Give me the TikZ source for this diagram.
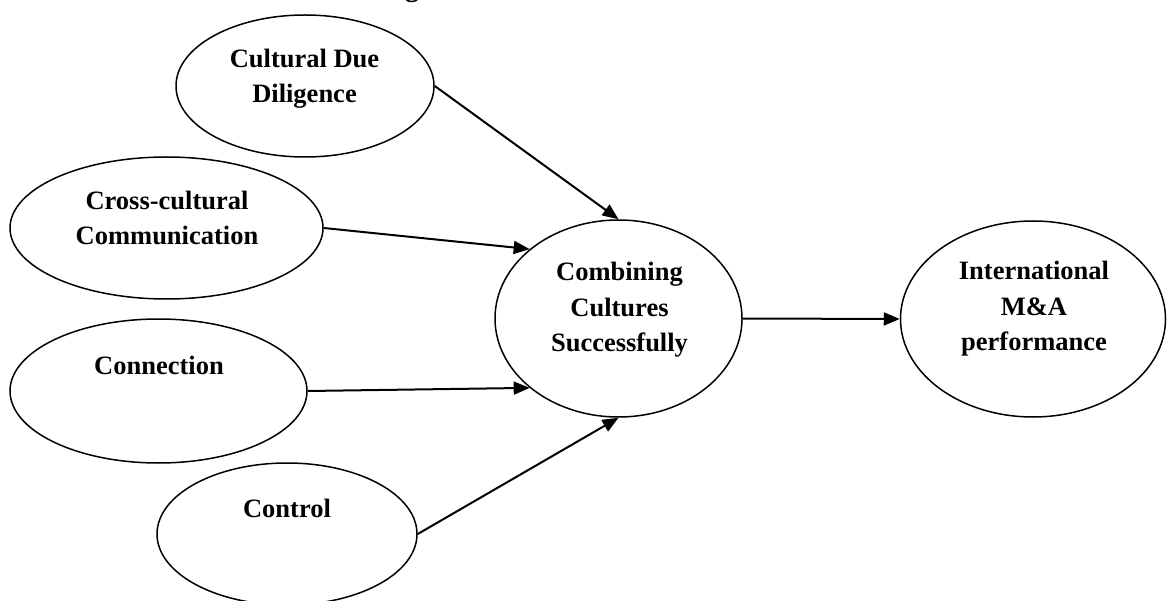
\documentclass[tikz,border=0pt]{standalone}
\usepackage{fontspec}
\setmainfont{Liberation Serif}
\usetikzlibrary{shapes.geometric,arrows.meta}

\tikzset{
  oval/.style={ellipse, draw, line width=1.5pt, inner sep=0pt},
  lbl/.style={anchor=base, align=center, inner sep=0pt,
    font=\fontsize{26.5}{35.5}\selectfont\bfseries},
  arr/.style={line width=2pt, -{Triangle[length=16pt,width=13pt]}},
}

\begin{document}
\begin{tikzpicture}[x=1pt,y=-1pt]
  \useasboundingbox (0,0) rectangle (1167,601);
  \clip (0,0) rectangle (1167,601);

  % heading, running off the top edge
  \node[anchor=base west, inner sep=0pt,
        font=\fontsize{28}{34}\selectfont\bfseries] (title) at (380,-3)
        {Figure 1: Research Framework};

  % ellipses
  \node[oval, minimum width=258pt, minimum height=142pt] (cdd)   at (305,86) {};
  \node[oval, minimum width=313pt, minimum height=142pt] (cross) at (166.5,228) {};
  \node[oval, minimum width=297pt, minimum height=144pt] (conn)  at (158.5,391) {};
  \node[oval, minimum width=260pt, minimum height=142pt] (ctrl)  at (287,534) {};
  \node[oval, minimum width=247pt, minimum height=197pt] (comb)  at (618.5,318.5) {};
  \node[oval, minimum width=265pt, minimum height=196pt] (intl)  at (1033,319) {};

  % texts (anchored on the baseline of their last line)
  \node[lbl] (cddT)   at (304.5,103) {Cultural Due\\Diligence};
  \node[lbl] (crossT) at (167,245)   {Cross-cultural\\Communication};
  \node[lbl] (connT)  at (159,374)   {Connection};
  \node[lbl] (ctrlT)  at (287,517)   {Control};
  \node[lbl] (combT)  at (619.5,352) {Combining\\Cultures\\Successfully};
  \node[lbl] (intlT)  at (1034,351)  {International\\M\&A\\performance};

  % connectors
  \draw[arr] (cdd.east)   -- (comb.north);
  \draw[arr] (cross.east) -- (comb.142.7);
  \draw[arr] (conn.east)  -- (comb.218.5);
  \draw[arr] (ctrl.east)  -- (comb.south);
  \draw[arr] (comb.east)  -- (intl.west);
\end{tikzpicture}
\end{document}
